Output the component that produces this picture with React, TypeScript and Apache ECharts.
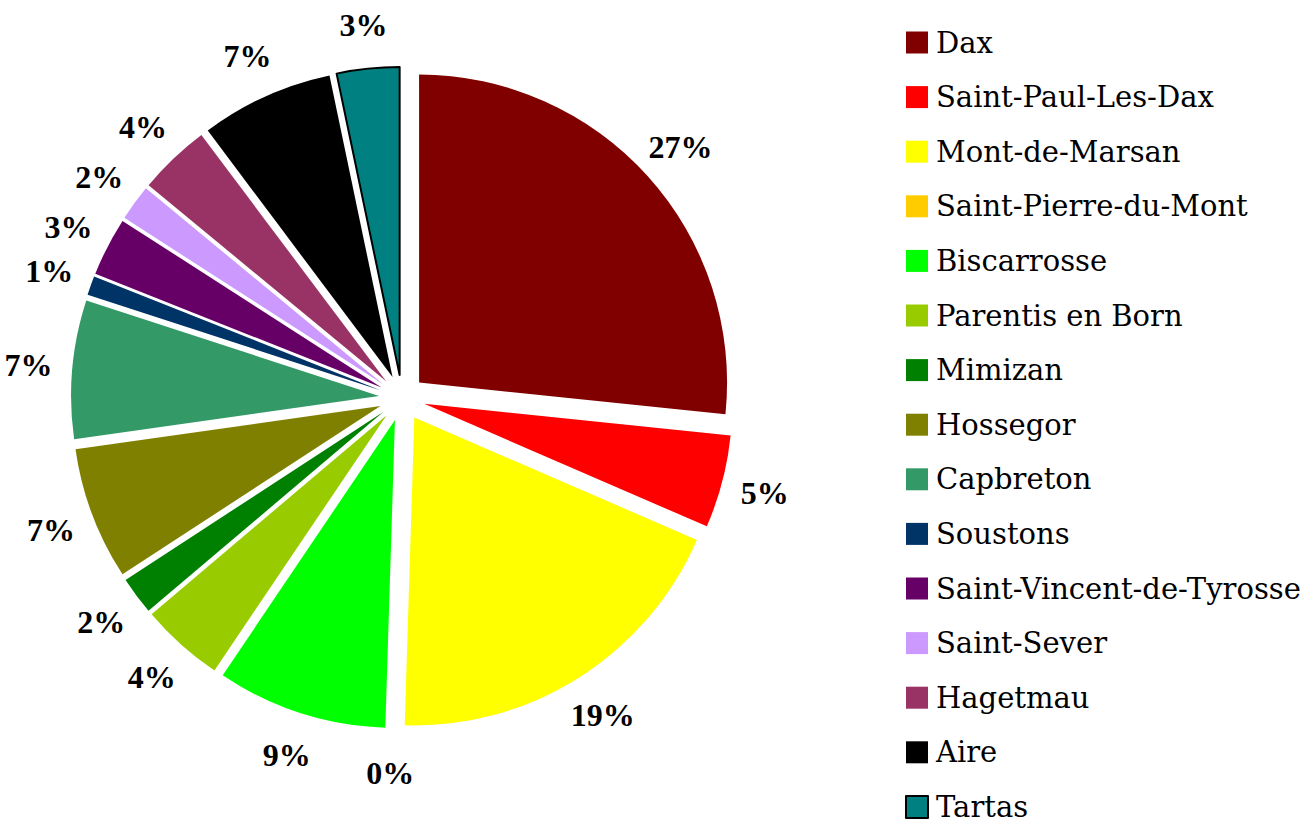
import React, { useEffect, useRef } from "react";
import * as echarts from "echarts";

const categories = [
  "Dax",
  "Saint-Paul-Les-Dax",
  "Mont-de-Marsan",
  "Saint-Pierre-du-Mont",
  "Biscarrosse",
  "Parentis en Born",
  "Mimizan",
  "Hossegor",
  "Capbreton",
  "Soustons",
  "Saint-Vincent-de-Tyrosse",
  "Saint-Sever",
  "Hagetmau",
  "Aire",
  "Tartas",
];

const values = [26.8, 4.9, 19.1, 0, 9.0, 4.4, 2.0, 7.0, 7.3, 1.0, 3.1, 1.9, 3.8, 7.0, 3.3];

const colors = [
  "#800000",
  "#FF0000",
  "#FFFF00",
  "#FFCC00",
  "#00FF00",
  "#99CC00",
  "#008000",
  "#808000",
  "#339966",
  "#003366",
  "#660066",
  "#CC99FF",
  "#993366",
  "#000000",
  "#008080",
];

const borderedSlices = ["Tartas"];

export default function App() {
  const ref = useRef<HTMLDivElement>(null);

  useEffect(() => {
    if (!ref.current) return;
    const chart = echarts.init(ref.current, undefined, { renderer: "svg" });
    const center = [402, 398];
    const mainData = categories.map((name, i) => ({
      name,
      value: values[i],
      selected: true,
      itemStyle: borderedSlices.includes(name)
        ? { color: colors[i], borderColor: "#000000", borderWidth: 2 }
        : { color: colors[i], borderWidth: 0 },
    }));
    const labelData = values.map((v) => ({ value: v }));
    chart.setOption({
      animation: false,
      backgroundColor: "#ffffff",
      legend: {
        orient: "vertical",
        left: 905,
        top: 28,
        height: 800,
        padding: 0,
        itemWidth: 22,
        itemHeight: 22,
        itemGap: 25.6,
        icon: "rect",
        selectedMode: false,
        data: categories,
        textStyle: {
          fontFamily: "DejaVu Serif",
          fontSize: 29,
          color: "#000000",
          padding: [0, 0, 0, 3],
        },
      },
      series: [
        {
          type: "pie",
          center,
          radius: [0, 308],
          startAngle: 90,
          clockwise: true,
          selectedMode: "multiple",
          selectedOffset: 23,
          avoidLabelOverlap: false,
          stillShowZeroSum: true,
          emphasis: { disabled: true },
          label: { show: false },
          labelLine: { show: false },
          data: mainData,
        },
        {
          type: "pie",
          center,
          radius: [362, 382],
          startAngle: 90,
          clockwise: true,
          silent: true,
          avoidLabelOverlap: false,
          emphasis: { disabled: true },
          itemStyle: { color: "rgba(0,0,0,0)", borderWidth: 0 },
          label: {
            show: true,
            position: "inside",
            formatter: (p: any) => Math.round(p.percent) + "%",
            fontFamily: "Liberation Serif",
            fontWeight: "bold",
            fontSize: 32,
            color: "#000000",
            textBorderWidth: 0,
          },
          labelLine: { show: false },
          data: labelData,
        },
      ],
    });
    return () => chart.dispose();
  }, []);

  return (
    <div
      ref={ref}
      style={{ position: "fixed", left: 0, top: 0, width: 1310, height: 820, background: "#fff" }}
    />
  );
}
